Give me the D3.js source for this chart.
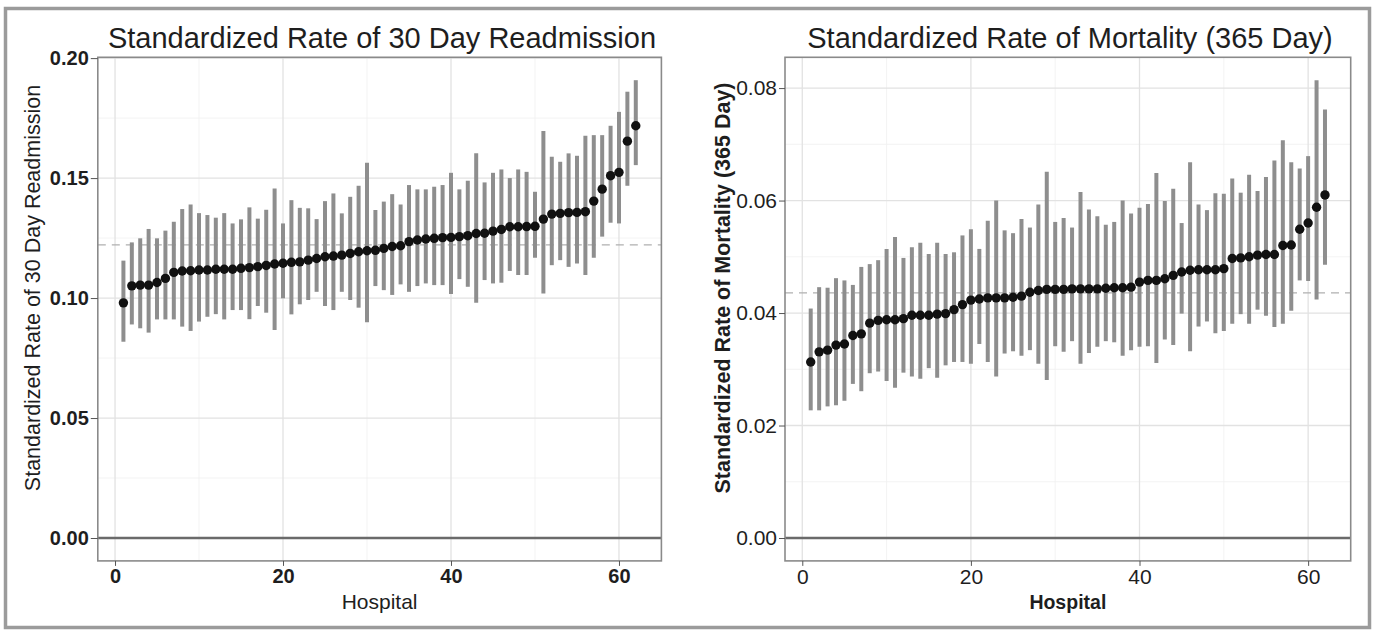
<!DOCTYPE html>
<meta charset="utf-8">
<html>
<head>
<script src="https://d3js.org/d3.v7.min.js" charset="utf-8"></script>
<style>
body { margin: 0; background: #fff; }
svg text { font-family: "Liberation Sans", Arial, sans-serif; fill: #1e1e1e; }
</style>
</head>
<body>
<svg width="1375" height="631"></svg>
<script type="text/javascript">
// hospitals 1..62, sorted by estimate
var hospitals = d3.range(1, 63);

// 30 day readmission: estimate, lower, upper
var readmitEst = [0.0980,0.1051,0.1054,0.1054,0.1065,0.1082,0.1107,0.1113,0.1114,0.1117,
  0.1117,0.1120,0.1120,0.1120,0.1124,0.1127,0.1131,0.1136,0.1142,0.1145,
  0.1149,0.1151,0.1158,0.1165,0.1172,0.1175,0.1179,0.1186,0.1193,0.1197,
  0.1199,0.1207,0.1215,0.1218,0.1235,0.1242,0.1246,0.1249,0.1252,0.1253,
  0.1256,0.1260,0.1269,0.1270,0.1279,0.1286,0.1297,0.1297,0.1298,0.1299,
  0.1329,0.1350,0.1353,0.1356,0.1357,0.1360,0.1404,0.1454,0.1510,0.1524,
  0.1654,0.1718];
var readmitLow = [0.0818,0.0890,0.0874,0.0856,0.0911,0.0911,0.0911,0.0881,0.0863,0.0902,
  0.0922,0.0933,0.0911,0.0950,0.0950,0.0912,0.0967,0.0939,0.0867,0.0999,
  0.0932,0.0974,0.0992,0.1026,0.0967,0.0950,0.1026,0.0992,0.0960,0.0899,
  0.1050,0.1033,0.1013,0.1057,0.1026,0.1050,0.1061,0.1054,0.1054,0.1017,
  0.1079,0.1047,0.0980,0.1075,0.1061,0.1064,0.1113,0.1096,0.1096,0.1168,
  0.1019,0.1137,0.1158,0.1130,0.1144,0.1096,0.1168,0.1256,0.1314,0.1311,
  0.1468,0.1554];
var readmitHigh = [0.1156,0.1232,0.1249,0.1288,0.1249,0.1281,0.1318,0.1371,0.1390,0.1354,
  0.1346,0.1335,0.1354,0.1311,0.1328,0.1378,0.1331,0.1368,0.1457,0.1311,
  0.1408,0.1376,0.1374,0.1329,0.1404,0.1436,0.1353,0.1422,0.1468,0.1564,
  0.1367,0.1402,0.1433,0.1390,0.1471,0.1453,0.1453,0.1464,0.1471,0.1522,
  0.1453,0.1489,0.1603,0.1482,0.1522,0.1536,0.1500,0.1536,0.1526,0.1443,
  0.1696,0.1589,0.1568,0.1603,0.1593,0.1676,0.1679,0.1679,0.1718,0.1776,
  0.1860,0.1908];
var readmitRef = 0.1222;

// 365 day mortality: estimate, lower, upper
var mortEst = [0.0313,0.0331,0.0334,0.0343,0.0345,0.0360,0.0363,0.0382,0.0387,0.0388,
  0.0388,0.0390,0.0396,0.0396,0.0396,0.0398,0.0399,0.0406,0.0415,0.0423,
  0.0425,0.0427,0.0427,0.0427,0.0428,0.0430,0.0437,0.0440,0.0442,0.0442,
  0.0442,0.0443,0.0443,0.0443,0.0443,0.0444,0.0445,0.0445,0.0446,0.0455,
  0.0458,0.0458,0.0461,0.0467,0.0473,0.0476,0.0477,0.0477,0.0477,0.0479,
  0.0497,0.0498,0.0500,0.0503,0.0504,0.0504,0.0520,0.0521,0.0549,0.0560,
  0.0588,0.0610];
var mortLow = [0.0227,0.0227,0.0234,0.0236,0.0244,0.0274,0.0261,0.0293,0.0296,0.0279,
  0.0267,0.0294,0.0287,0.0283,0.0302,0.0285,0.0307,0.0313,0.0313,0.0310,
  0.0345,0.0313,0.0287,0.0328,0.0332,0.0324,0.0334,0.0310,0.0281,0.0341,
  0.0331,0.0350,0.0310,0.0329,0.0340,0.0350,0.0348,0.0324,0.0334,0.0340,
  0.0341,0.0311,0.0353,0.0343,0.0399,0.0332,0.0376,0.0385,0.0364,0.0368,
  0.0381,0.0398,0.0381,0.0406,0.0395,0.0375,0.0381,0.0404,0.0458,0.0457,
  0.0424,0.0486];
var mortHigh = [0.0408,0.0446,0.0445,0.0462,0.0458,0.0450,0.0482,0.0487,0.0494,0.0514,
  0.0535,0.0498,0.0517,0.0525,0.0505,0.0525,0.0505,0.0508,0.0538,0.0549,
  0.0514,0.0564,0.0600,0.0547,0.0542,0.0567,0.0552,0.0593,0.0651,0.0562,
  0.0569,0.0552,0.0615,0.0584,0.0572,0.0557,0.0562,0.0600,0.0577,0.0587,
  0.0594,0.0649,0.0599,0.0621,0.0560,0.0668,0.0593,0.0583,0.0613,0.0612,
  0.0639,0.0614,0.0646,0.0617,0.0642,0.0671,0.0707,0.0668,0.0657,0.0679,
  0.0814,0.0762];
var mortRef = 0.0436;

var xTicks = [0, 20, 40, 60];
var xMinor = [10, 30, 50];
var readmitTicks = [0, 0.05, 0.10, 0.15, 0.20];
var readmitMinor = [0.025, 0.075, 0.125, 0.175];
var mortTicks = [0, 0.02, 0.04, 0.06, 0.08];
var mortMinor = [0.01, 0.03, 0.05, 0.07];

var svg = d3.select("svg");
svg.append("rect").attr("width", 1375).attr("height", 631).attr("fill", "#fff");
svg.append("rect")
    .attr("x", 5.5).attr("y", 8.5).attr("width", 1364).attr("height", 619)
    .attr("fill", "none").attr("stroke", "#9b9b9b").attr("stroke-width", 3.5);

var plotTop = 57.3, plotBottom = 560.9;

function drawPanel(p) {
  var g = svg.append("g");
  var xPad = (62 - 1) * 0.05;
  var x = d3.scaleLinear().domain([1 - xPad, 62 + xPad]).range([p.left, p.right]);
  var yMax = d3.max(p.high);
  var yPad = yMax * 0.05;
  var y = d3.scaleLinear().domain([-yPad, yMax + yPad]).range([plotBottom, plotTop]);

  g.append("rect").attr("x", p.left).attr("y", plotTop)
      .attr("width", p.right - p.left).attr("height", plotBottom - plotTop).attr("fill", "#fff");

  // grid
  g.selectAll(".ymin").data(p.minor).enter().append("line")
      .attr("x1", p.left).attr("x2", p.right)
      .attr("y1", function(d) { return y(d); }).attr("y2", function(d) { return y(d); })
      .attr("stroke", "#f0f0f0").attr("stroke-width", 0.8);
  g.selectAll(".xmin").data(xMinor).enter().append("line")
      .attr("y1", plotTop).attr("y2", plotBottom)
      .attr("x1", function(d) { return x(d); }).attr("x2", function(d) { return x(d); })
      .attr("stroke", "#f0f0f0").attr("stroke-width", 0.8);
  g.selectAll(".ymaj").data(p.ticks).enter().append("line")
      .attr("x1", p.left).attr("x2", p.right)
      .attr("y1", function(d) { return y(d); }).attr("y2", function(d) { return y(d); })
      .attr("stroke", "#e2e2e2").attr("stroke-width", 1.3);
  g.selectAll(".xmaj").data(xTicks).enter().append("line")
      .attr("y1", plotTop).attr("y2", plotBottom)
      .attr("x1", function(d) { return x(d); }).attr("x2", function(d) { return x(d); })
      .attr("stroke", "#e2e2e2").attr("stroke-width", 1.3);

  // reference line and zero line
  g.append("line").attr("x1", p.left).attr("x2", p.right)
      .attr("y1", y(p.ref)).attr("y2", y(p.ref))
      .attr("stroke", "#b0b0b0").attr("stroke-width", 1.3).attr("stroke-dasharray", "8,6");
  g.append("line").attr("x1", p.left).attr("x2", p.right)
      .attr("y1", y(0)).attr("y2", y(0))
      .attr("stroke", "#6a6a6a").attr("stroke-width", 2.5);

  // error bars
  g.selectAll(".bar").data(hospitals).enter().append("line")
      .attr("x1", function(d) { return x(d); }).attr("x2", function(d) { return x(d); })
      .attr("y1", function(d, i) { return y(p.low[i]); })
      .attr("y2", function(d, i) { return y(p.high[i]); })
      .attr("stroke", "#8e8e8e").attr("stroke-width", 4);

  g.selectAll(".pt").data(hospitals).enter().append("circle")
      .attr("cx", function(d) { return x(d); })
      .attr("cy", function(d, i) { return y(p.est[i]); })
      .attr("r", 4.7).attr("fill", "#111");

  g.append("rect").attr("x", p.left).attr("y", plotTop)
      .attr("width", p.right - p.left).attr("height", plotBottom - plotTop)
      .attr("fill", "none").attr("stroke", "#8a8a8a").attr("stroke-width", 1.6);

  // axes
  var yAxis = g.append("g").attr("transform", "translate(" + p.left + ",0)")
      .call(d3.axisLeft(y).tickValues(p.ticks).tickFormat(d3.format(".2f")).tickSize(p.tickLen).tickPadding(2));
  var xAxis = g.append("g").attr("transform", "translate(0," + plotBottom + ")")
      .call(d3.axisBottom(x).tickValues(xTicks).tickSize(5).tickPadding(3));
  [yAxis, xAxis].forEach(function(a) {
    a.select(".domain").remove();
    a.selectAll(".tick line").attr("stroke", "#555");
    a.selectAll(".tick text").attr("fill", "#1e1e1e")
        .style("font-size", p.tickSize)
        .style("font-weight", p.tickBold ? "bold" : "normal");
  });

  g.append("text").attr("x", p.titleX).attr("y", 48)
      .attr("text-anchor", "middle").style("font-size", "29px")
      .text(p.title);
  g.append("text").attr("x", (p.left + p.right) / 2).attr("y", 609)
      .attr("text-anchor", "middle").style("font-size", p.xTitleSize)
      .style("font-weight", p.xTitleBold ? "bold" : "normal")
      .text("Hospital");
  g.append("text")
      .attr("transform", "translate(" + p.yTitleX + ",288) rotate(-90)")
      .attr("text-anchor", "middle").style("font-size", p.yTitleSize)
      .style("font-weight", p.yTitleBold ? "bold" : "normal")
      .text(p.yTitle);
}

drawPanel({
  left: 97.8, right: 661.4, est: readmitEst, low: readmitLow, high: readmitHigh, ref: readmitRef,
  ticks: readmitTicks, minor: readmitMinor, tickLen: 7, tickSize: "20px",
  title: "Standardized Rate of 30 Day Readmission", titleX: 382,
  yTitle: "Standardized Rate of 30 Day Readmission", yTitleX: 40, yTitleSize: "21.5px",
  xTitleSize: "21px",
  tickBold: true, xTitleBold: false, yTitleBold: false
});

drawPanel({
  left: 785, right: 1350.7, est: mortEst, low: mortLow, high: mortHigh, ref: mortRef,
  ticks: mortTicks, minor: mortMinor, tickLen: 6, tickSize: "21px",
  title: "Standardized Rate of Mortality (365 Day)", titleX: 1070,
  yTitle: "Standardized Rate of Mortality (365 Day)", yTitleX: 730, yTitleSize: "21.5px",
  xTitleSize: "19.5px",
  tickBold: false, xTitleBold: true, yTitleBold: true
});
</script>
</body>
</html>
